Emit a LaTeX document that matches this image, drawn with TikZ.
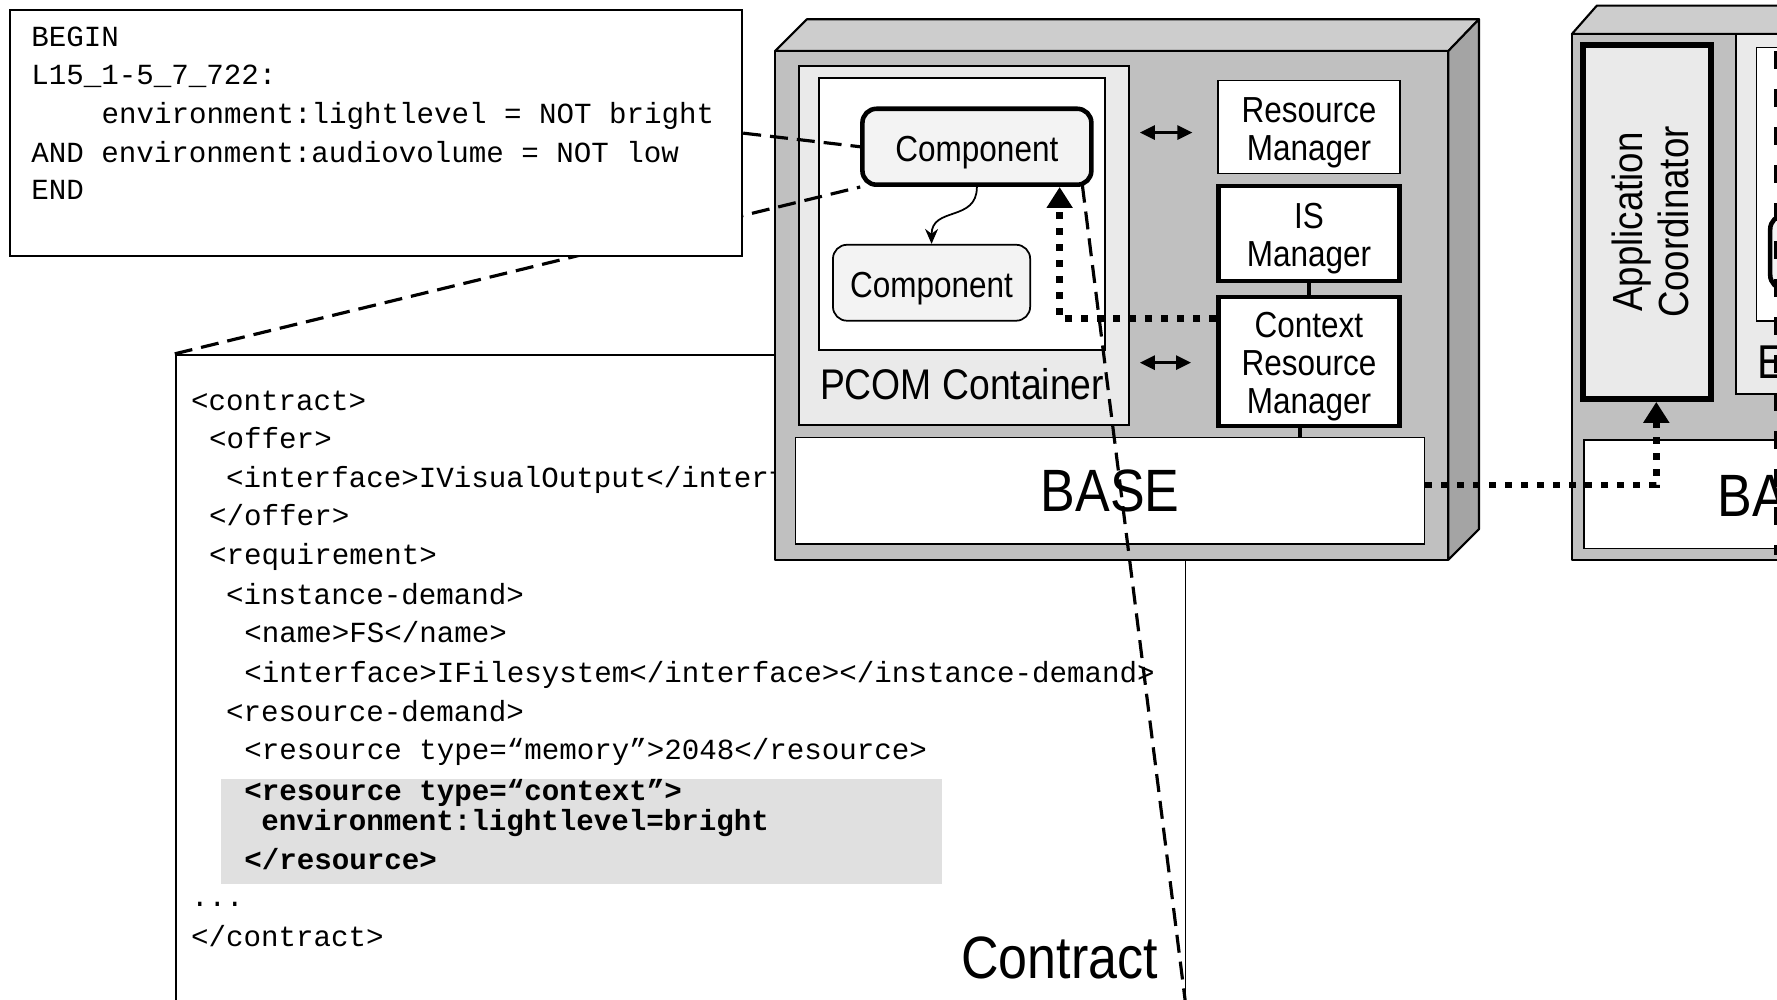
\documentclass[tikz,border=0pt]{standalone}
\usepackage{fontspec}
\usepackage{tikz}
\usetikzlibrary{calc,arrows.meta,fit}
\newfontfamily\labfont{Liberation Sans}[FakeStretch=0.87]
\newfontfamily\codefont{Liberation Mono}
\definecolor{face}{HTML}{C0C0C0}
\definecolor{lid}{HTML}{CDCDCD}
\definecolor{flank}{HTML}{A4A4A4}
\definecolor{contfill}{HTML}{EAEAEA}
\definecolor{compfill}{HTML}{F3F3F3}
\definecolor{hilite}{HTML}{E0E0E0}
\tikzset{
  faceline/.style={draw=black, line width=0.6pt, line join=round, inner sep=0pt},
  boxw/.style={draw=black, fill=white, line width=0.5pt, inner sep=0pt},
  boxt/.style={boxw, line width=1.3pt},
  boxg/.style={boxw, fill=contfill},
  comp/.style={draw=black, fill=compfill, line width=0.5pt, rounded corners=1.4mm, inner sep=0pt},
  compt/.style={comp, line width=1.3pt},
  txt/.style={font=\labfont\fontsize{10.3}{10.8}\selectfont, align=center, inner sep=0pt, yshift=-0.55mm},
  code/.style={font=\codefont\fontsize{8.3}{10}\selectfont, anchor=base west, inner sep=0pt},
  codeb/.style={code, font=\codefont\fontsize{8.3}{10}\selectfont\bfseries},
  lab/.style={font=\labfont\fontsize{12.2}{13}\selectfont, inner sep=0pt},
  big/.style={font=\labfont\fontsize{17}{18}\selectfont, inner sep=0pt},
  callout/.style={draw=black, line width=0.9pt, dash pattern=on 1.8mm off 0.9mm},
  flow/.style={draw=black, line width=1.9pt, dash pattern=on 0.7mm off 0.9mm, -{Triangle[length=2.1mm,width=2.5mm]}},
  dbl/.style={draw=black, line width=0.8pt, {Triangle[length=1.5mm,width=1.4mm]}-{Triangle[length=1.5mm,width=1.4mm]}},
  wiggle/.style={draw=black, line width=0.5pt, -{Stealth[length=1.5mm,width=1.3mm]}},
}

\begin{document}
\begin{tikzpicture}[x=0.11333mm, y=-0.11333mm]
  \path[use as bounding box, fill=white] (0,0) rectangle (1568,882);
  \clip (0,0) rectangle (1568,882);

  % contract listing
  \node[boxw, fit={(155,313) (1046,890)}] (contract) {};
  \node[code] (c1) at (168,362) {<contract>};
  \node[code] (c2) at (184,396) {<offer>};
  \node[code] (c3) at (199,430) {<interface>IVisualOutput</interface>};
  \node[code] (c4) at (184,464) {</offer>};
  \node[code] (c5) at (184,498) {<requirement>};
  \node[code] (c6) at (199,533) {<instance-demand>};
  \node[code] (c7) at (215,567) {<name>FS</name>};
  \node[code] (c8) at (215,602) {<interface>IFilesystem</interface></instance-demand>};
  \node[code] (c9) at (199,637) {<resource-demand>};
  \node[code] (c10) at (215,670) {<resource type=“memory”>2048</resource>};
  \node[fill=hilite, inner sep=0pt, fit={(195,687) (831,780)}] (hl) {};
  \node[codeb] (c11) at (215,706) {<resource type=“context”>};
  \node[codeb] (c12) at (230,733) {environment:lightlevel=bright};
  \node[codeb] (c13) at (215,767) {</resource>};
  \node[code] (c14) at (168,800) {...};
  \node[code] (c15) at (168,835) {</contract>};

  % first device
  \draw[faceline, fill=lid] (684,45) -- (712,17) -- (1305,17) -- (1278,45) -- cycle;
  \draw[faceline, fill=flank] (1278,45) -- (1305,17) -- (1305,467) -- (1278,494) -- cycle;
  \node[faceline, fill=face, fit={(684,45) (1278,494)}] (dev1) {};
  \node[boxg, fit={(705,58) (996,375)}] (pcom) {};
  \node[boxw, fit={(723,69) (975,309)}] (inner) {};
  \node[lab, anchor=west] (pcomlab) at (723,339) {PCOM Container};
  \node[compt, fit={(761,96) (963,163)}] (comp1) {};
  \node[txt] (comp1lab) at (comp1.center) {Component};
  \node[comp, fit={(735,216) (909,283)}] (comp2) {};
  \node[txt] (comp2lab) at (comp2.center) {Component};
  \node[boxw, fit={(1075,71) (1235,153)}] (resm) {};
  \node[txt] (resmlab) at (resm.center) {Resource\\Manager};
  \node[boxt, fit={(1075,164) (1235,248)}] (ism) {};
  \node[txt] (ismlab) at (ism.center) {IS\\Manager};
  \node[boxt, fit={(1075,262) (1235,376)}] (crm) {};
  \node[txt] (crmlab) at (crm.center) {Context\\Resource\\Manager};
  \node[boxw, fit={(702,386) (1257,480)}] (base) {};
  \node[big] (baselab) at (base.center) {BASE};
  \coordinate (tap) at (1147,0);
  \draw[line width=1.1pt] (ism.south) -- (crm.north);
  \draw[line width=1.3pt] (crm.south -| tap) -- (base.north -| tap);
  \draw[dbl] ($(pcom.east |- resm.west)+(9,5)$) -- ($(resm.west)+(-22,5)$);
  \draw[dbl] ($(pcom.east |- crm.west)+(9,1)$) -- ($(crm.west)+(-22,1)$);
  \draw[wiggle] (comp1.south) .. controls (862,196) and (822,182) .. (comp2.north);
  \draw[flow] ($(crm.north west)+(0,21)$) -| ($(comp1.south)+(73,0)$);

  % second device
  \draw[faceline, fill=lid] (1387,30) -- (1409,5) -- (1800,5) -- (1800,30) -- cycle;
  \node[faceline, fill=face, fit={(1387,30) (1800,494)}] (dev2) {};
  \node[boxt, fill=contfill, line width=1.7pt, fit={(1397,40) (1510,352)}] (appc) {};
  \node[lab, rotate=90, align=center, font=\labfont\fontsize{12}{13}\selectfont] (appclab) at ($(appc.center)+(3,0)$) {Application\\Coordinator};
  \node[boxg, fit={(1532,30) (1800,348)}] (cont2) {};
  \node[boxw, fit={(1550,42) (1800,283)}] (inner2) {};
  \node[compt, fit={(1562,190) (1700,255)}] (comp3) {};
  \node[lab, anchor=west, font=\labfont\fontsize{13.5}{14}\selectfont] (cont2lab) at (1550,320) {E};
  \node[boxw, fit={(1398,388) (1756,484)}] (base2) {};
  \node[big] (base2lab) at ($(base2.center)+(0,2)$) {BASE};
  \draw[flow] ($(base.east)+(0,-5)$) -| ($(appc.south)+(8,0)$);

  % callouts
  \draw[callout] (contract.north west) -- (comp1.south west);
  \node[boxw, fit={(9,9) (655,226)}] (cond) {};
  \draw[callout] (cond.east) -- (comp1.west);
  \node[code] (k1) at (27,41) {BEGIN};
  \node[code] (k2) at (27,75) {L15\_1-5\_7\_722:};
  \node[code] (k3) at (89,109) {environment:lightlevel = NOT bright};
  \node[code] (k4) at (27,143) {AND environment:audiovolume = NOT low};
  \node[code] (k5) at (27,176) {END};
  \draw[callout] ($(comp1.south east)+(-10,-2)$) -- (contract.south east);
  \node[big] (contractlab) at (935,845) {Contract};
  \coordinate (edgetop) at (1567,45);
  \coordinate (edgebot) at (1567,490);
  \draw[draw=black, line width=1pt, dash pattern=on 1.8mm off 2mm] (edgetop) -- (edgebot);
\end{tikzpicture}
\end{document}
